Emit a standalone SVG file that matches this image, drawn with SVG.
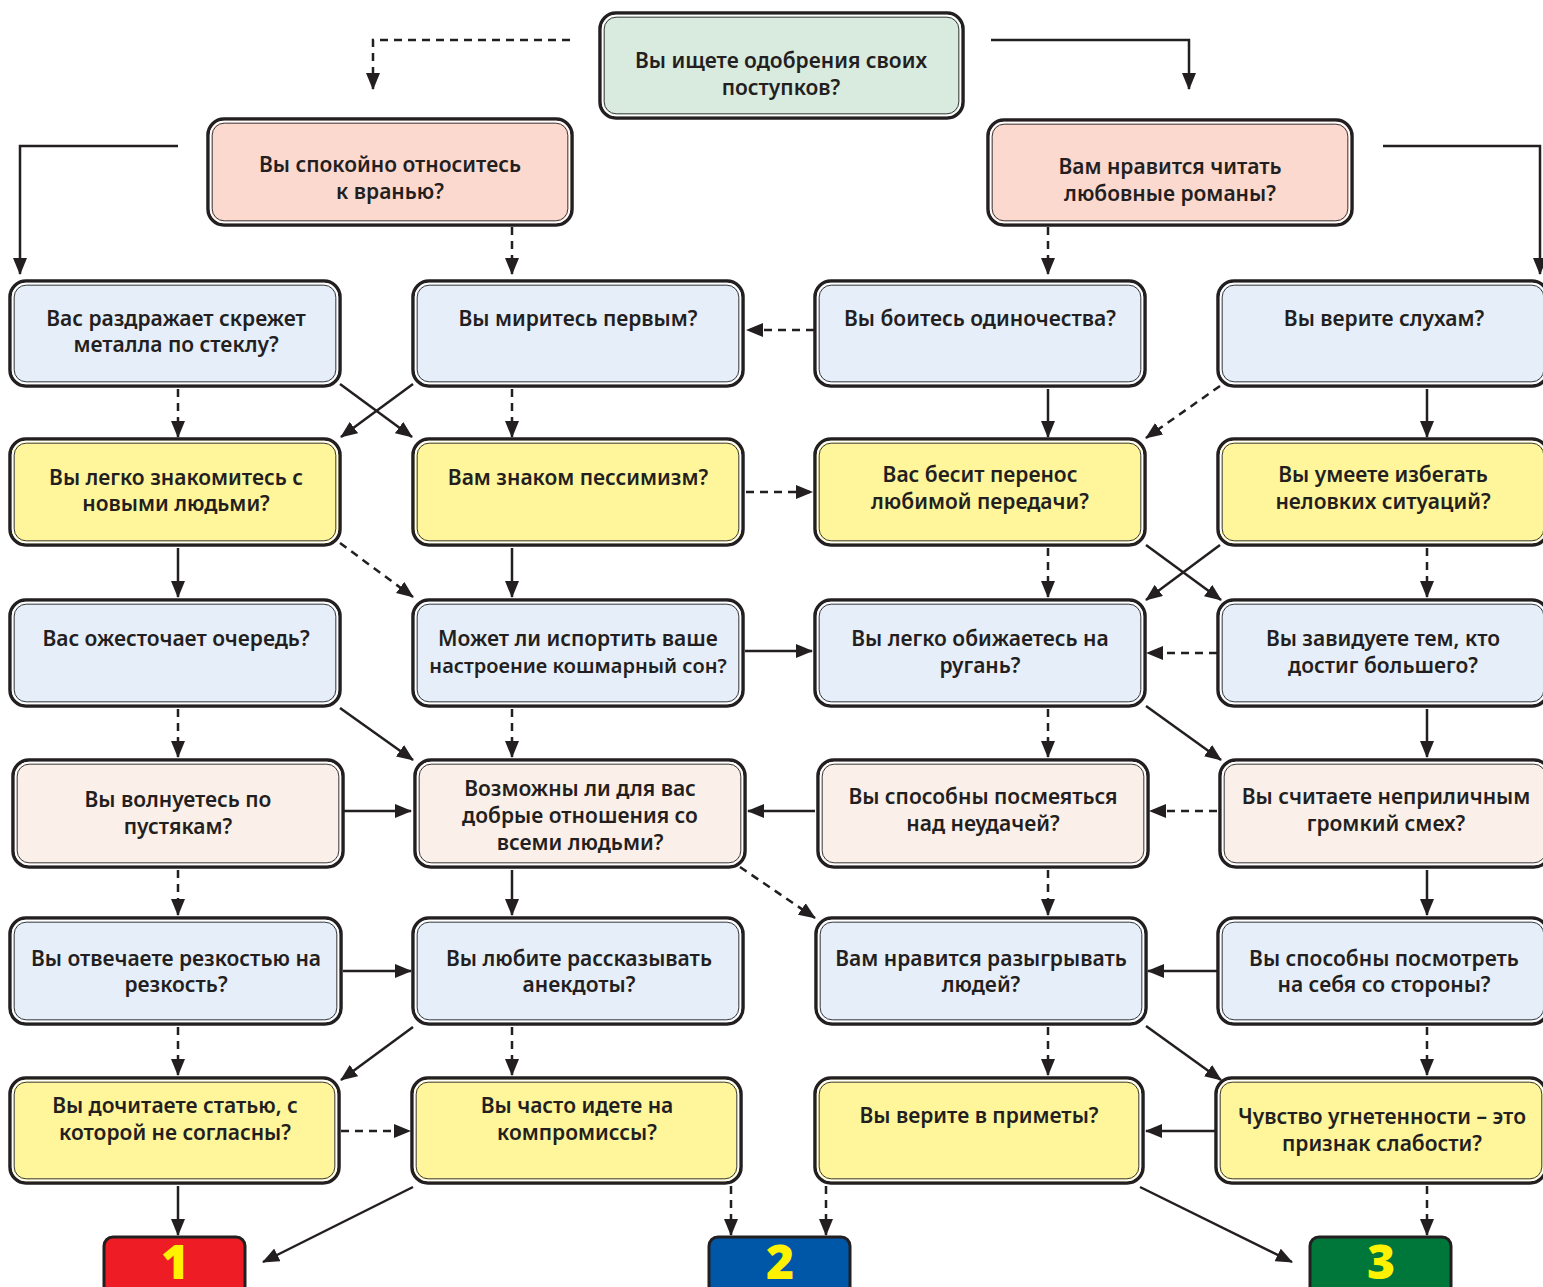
<svg xmlns="http://www.w3.org/2000/svg" width="1543" height="1287" viewBox="0 0 1543 1287">
<style>
.bg{fill:#ffffff}
.o{stroke:#231f20;stroke-width:3.5}
.w{fill:none;stroke:#ffffff;stroke-width:1.6}
.i{fill:none;stroke:#3a3a3a;stroke-width:1}
.green{fill:#d9eadf}
.pink{fill:#fcd9cf}
.blue{fill:#e6eefa}
.yel{fill:#fff59a}
.lp{fill:#fbefe9}
.t{font-family:"Noto Sans","DejaVu Sans",sans-serif;font-weight:600;font-size:21px;fill:#231f20;text-anchor:middle}
.c{fill:none;stroke:#231f20;stroke-width:2.5;marker-end:url(#ah)}
.d{stroke-dasharray:8 6}
.r{stroke:#231f20;stroke-width:3}
.num{font-family:"Open Sans","Noto Sans","DejaVu Sans",sans-serif;font-weight:800;font-size:48px;fill:#fff200;text-anchor:middle}
</style>
<defs>
<marker id="ah" markerUnits="userSpaceOnUse" markerWidth="18" markerHeight="14" refX="16" refY="7" orient="auto">
<path d="M0,0 L17,7 L0,14 z" fill="#231f20"/>
</marker>
</defs>
<rect class="bg" x="0" y="0" width="1543" height="1287"/>

<g id="connectors">
<polyline class="c d" points="570,40 373,40 373,89"/>
<polyline class="c" points="991,40 1189,40 1189,89"/>
<polyline class="c" points="178,146 20,146 20,274"/>
<polyline class="c" points="1383,146 1540,146 1540,274"/>
<line class="c d" x1="512" y1="227" x2="512" y2="274"/>
<line class="c d" x1="1048" y1="227" x2="1048" y2="274"/>
<line class="c d" x1="814" y1="330" x2="747" y2="330"/>
<line class="c d" x1="178" y1="389" x2="178" y2="437"/>
<line class="c d" x1="512" y1="389" x2="512" y2="437"/>
<line class="c" x1="340" y1="384" x2="412" y2="437"/>
<line class="c" x1="413" y1="384" x2="341" y2="437"/>
<line class="c" x1="1048" y1="389" x2="1048" y2="437"/>
<line class="c" x1="1427" y1="389" x2="1427" y2="437"/>
<line class="c d" x1="1220" y1="386" x2="1146" y2="438"/>
<line class="c d" x1="746" y1="492" x2="812" y2="492"/>
<line class="c" x1="178" y1="548" x2="178" y2="597"/>
<line class="c d" x1="340" y1="543" x2="413" y2="597"/>
<line class="c" x1="512" y1="548" x2="512" y2="597"/>
<line class="c d" x1="1048" y1="548" x2="1048" y2="597"/>
<line class="c" x1="1146" y1="545" x2="1221" y2="600"/>
<line class="c" x1="1220" y1="545" x2="1146" y2="600"/>
<line class="c d" x1="1427" y1="548" x2="1427" y2="597"/>
<line class="c" x1="745" y1="651" x2="812" y2="651"/>
<line class="c d" x1="1217" y1="653" x2="1147" y2="653"/>
<line class="c d" x1="178" y1="709" x2="178" y2="757"/>
<line class="c" x1="340" y1="708" x2="413" y2="760"/>
<line class="c d" x1="512" y1="709" x2="512" y2="757"/>
<line class="c d" x1="1048" y1="709" x2="1048" y2="757"/>
<line class="c" x1="1146" y1="706" x2="1221" y2="760"/>
<line class="c" x1="1427" y1="709" x2="1427" y2="757"/>
<line class="c" x1="344" y1="811" x2="411" y2="811"/>
<line class="c" x1="815" y1="811" x2="748" y2="811"/>
<line class="c d" x1="1217" y1="811" x2="1150" y2="811"/>
<line class="c d" x1="178" y1="870" x2="178" y2="915"/>
<line class="c" x1="512" y1="870" x2="512" y2="915"/>
<line class="c d" x1="740" y1="867" x2="815" y2="918"/>
<line class="c d" x1="1048" y1="870" x2="1048" y2="915"/>
<line class="c" x1="1427" y1="870" x2="1427" y2="915"/>
<line class="c" x1="343" y1="971" x2="411" y2="971"/>
<line class="c" x1="1217" y1="971" x2="1148" y2="971"/>
<line class="c d" x1="178" y1="1027" x2="178" y2="1075"/>
<line class="c" x1="413" y1="1027" x2="341" y2="1080"/>
<line class="c d" x1="512" y1="1027" x2="512" y2="1075"/>
<line class="c d" x1="1048" y1="1027" x2="1048" y2="1075"/>
<line class="c" x1="1146" y1="1026" x2="1221" y2="1080"/>
<line class="c d" x1="1427" y1="1027" x2="1427" y2="1075"/>
<line class="c d" x1="341" y1="1131" x2="410" y2="1131"/>
<line class="c" x1="1215" y1="1131" x2="1146" y2="1131"/>
<line class="c" x1="178" y1="1186" x2="178" y2="1235"/>
<line class="c" x1="413" y1="1187" x2="263" y2="1262"/>
<line class="c d" x1="731" y1="1186" x2="731" y2="1235"/>
<line class="c d" x1="826" y1="1186" x2="826" y2="1235"/>
<line class="c" x1="1140" y1="1187" x2="1292" y2="1262"/>
<line class="c d" x1="1427" y1="1186" x2="1427" y2="1235"/>
</g>

<g id="n0" transform="translate(600,13)"><rect class="o green" width="363" height="105" rx="16"/><rect class="w" x="2.6" y="2.6" width="357.8" height="99.8" rx="13.5"/><rect class="i" x="4.2" y="4.2" width="354.6" height="96.6" rx="12"/></g>
<text class="t" x="781" y="68">Вы ищете одобрения своих</text><text class="t" x="781" y="95">поступков?</text>

<g id="n1" transform="translate(208,119)"><rect class="o pink" width="364" height="106" rx="16"/><rect class="w" x="2.6" y="2.6" width="358.8" height="100.8" rx="13.5"/><rect class="i" x="4.2" y="4.2" width="355.6" height="97.6" rx="12"/></g>
<text class="t" x="390" y="172">Вы спокойно относитесь</text><text class="t" x="390" y="199">к вранью?</text>

<g id="n2" transform="translate(988,120)"><rect class="o pink" width="364" height="105" rx="16"/><rect class="w" x="2.6" y="2.6" width="358.8" height="99.8" rx="13.5"/><rect class="i" x="4.2" y="4.2" width="355.6" height="96.6" rx="12"/></g>
<text class="t" x="1170" y="174">Вам нравится читать</text><text class="t" x="1170" y="201">любовные романы?</text>

<!-- Row 2 -->
<g id="r2c1" transform="translate(10,281)"><rect class="o blue" width="330" height="105" rx="16"/><rect class="w" x="2.6" y="2.6" width="324.8" height="99.8" rx="13.5"/><rect class="i" x="4.2" y="4.2" width="321.6" height="96.6" rx="12"/></g>
<text class="t" x="176" y="326">Вас раздражает скрежет</text><text class="t" x="176" y="352">металла по стеклу?</text>
<g id="r2c2" transform="translate(413,281)"><rect class="o blue" width="330" height="105" rx="16"/><rect class="w" x="2.6" y="2.6" width="324.8" height="99.8" rx="13.5"/><rect class="i" x="4.2" y="4.2" width="321.6" height="96.6" rx="12"/></g>
<text class="t" x="578" y="326">Вы миритесь первым?</text>
<g id="r2c3" transform="translate(815,281)"><rect class="o blue" width="330" height="105" rx="16"/><rect class="w" x="2.6" y="2.6" width="324.8" height="99.8" rx="13.5"/><rect class="i" x="4.2" y="4.2" width="321.6" height="96.6" rx="12"/></g>
<text class="t" x="980" y="326">Вы боитесь одиночества?</text>
<g id="r2c4" transform="translate(1218,281)"><rect class="o blue" width="330" height="105" rx="16"/><rect class="w" x="2.6" y="2.6" width="324.8" height="99.8" rx="13.5"/><rect class="i" x="4.2" y="4.2" width="321.6" height="96.6" rx="12"/></g>
<text class="t" x="1384" y="326">Вы верите слухам?</text>

<!-- Row 3 -->
<g id="r3c1" transform="translate(10,439)"><rect class="o yel" width="330" height="106" rx="16"/><rect class="w" x="2.6" y="2.6" width="324.8" height="100.8" rx="13.5"/><rect class="i" x="4.2" y="4.2" width="321.6" height="97.6" rx="12"/></g>
<text class="t" x="176" y="485">Вы легко знакомитесь с</text><text class="t" x="176" y="511">новыми людьми?</text>
<g id="r3c2" transform="translate(413,439)"><rect class="o yel" width="330" height="106" rx="16"/><rect class="w" x="2.6" y="2.6" width="324.8" height="100.8" rx="13.5"/><rect class="i" x="4.2" y="4.2" width="321.6" height="97.6" rx="12"/></g>
<text class="t" x="578" y="485">Вам знаком пессимизм?</text>
<g id="r3c3" transform="translate(815,439)"><rect class="o yel" width="330" height="106" rx="16"/><rect class="w" x="2.6" y="2.6" width="324.8" height="100.8" rx="13.5"/><rect class="i" x="4.2" y="4.2" width="321.6" height="97.6" rx="12"/></g>
<text class="t" x="980" y="482">Вас бесит перенос</text><text class="t" x="980" y="509">любимой передачи?</text>
<g id="r3c4" transform="translate(1218,439)"><rect class="o yel" width="330" height="106" rx="16"/><rect class="w" x="2.6" y="2.6" width="324.8" height="100.8" rx="13.5"/><rect class="i" x="4.2" y="4.2" width="321.6" height="97.6" rx="12"/></g>
<text class="t" x="1383" y="482">Вы умеете избегать</text><text class="t" x="1383" y="509">неловких ситуаций?</text>

<!-- Row 4 -->
<g id="r4c1" transform="translate(10,600)"><rect class="o blue" width="330" height="106" rx="16"/><rect class="w" x="2.6" y="2.6" width="324.8" height="100.8" rx="13.5"/><rect class="i" x="4.2" y="4.2" width="321.6" height="97.6" rx="12"/></g>
<text class="t" x="176" y="646">Вас ожесточает очередь?</text>
<g id="r4c2" transform="translate(413,600)"><rect class="o blue" width="330" height="106" rx="16"/><rect class="w" x="2.6" y="2.6" width="324.8" height="100.8" rx="13.5"/><rect class="i" x="4.2" y="4.2" width="321.6" height="97.6" rx="12"/></g>
<text class="t" x="578" y="646">Может ли испортить ваше</text><text class="t" x="578" y="673" style="font-size:20px">настроение кошмарный сон?</text>
<g id="r4c3" transform="translate(815,600)"><rect class="o blue" width="330" height="106" rx="16"/><rect class="w" x="2.6" y="2.6" width="324.8" height="100.8" rx="13.5"/><rect class="i" x="4.2" y="4.2" width="321.6" height="97.6" rx="12"/></g>
<text class="t" x="980" y="646">Вы легко обижаетесь на</text><text class="t" x="980" y="673">ругань?</text>
<g id="r4c4" transform="translate(1218,600)"><rect class="o blue" width="330" height="106" rx="16"/><rect class="w" x="2.6" y="2.6" width="324.8" height="100.8" rx="13.5"/><rect class="i" x="4.2" y="4.2" width="321.6" height="97.6" rx="12"/></g>
<text class="t" x="1383" y="646">Вы завидуете тем, кто</text><text class="t" x="1383" y="673">достиг большего?</text>

<!-- Row 5 -->
<g id="r5c1" transform="translate(13,760)"><rect class="o lp" width="330" height="107" rx="16"/><rect class="w" x="2.6" y="2.6" width="324.8" height="101.8" rx="13.5"/><rect class="i" x="4.2" y="4.2" width="321.6" height="98.6" rx="12"/></g>
<text class="t" x="178" y="807">Вы волнуетесь по</text><text class="t" x="178" y="834">пустякам?</text>
<g id="r5c2" transform="translate(415,760)"><rect class="o lp" width="330" height="107" rx="16"/><rect class="w" x="2.6" y="2.6" width="324.8" height="101.8" rx="13.5"/><rect class="i" x="4.2" y="4.2" width="321.6" height="98.6" rx="12"/></g>
<text class="t" x="580" y="796">Возможны ли для вас</text><text class="t" x="580" y="823">добрые отношения со</text><text class="t" x="580" y="850">всеми людьми?</text>
<g id="r5c3" transform="translate(818,760)"><rect class="o lp" width="330" height="107" rx="16"/><rect class="w" x="2.6" y="2.6" width="324.8" height="101.8" rx="13.5"/><rect class="i" x="4.2" y="4.2" width="321.6" height="98.6" rx="12"/></g>
<text class="t" x="983" y="804">Вы способны посмеяться</text><text class="t" x="983" y="831">над неудачей?</text>
<g id="r5c4" transform="translate(1220,760)"><rect class="o lp" width="330" height="107" rx="16"/><rect class="w" x="2.6" y="2.6" width="324.8" height="101.8" rx="13.5"/><rect class="i" x="4.2" y="4.2" width="321.6" height="98.6" rx="12"/></g>
<text class="t" x="1386" y="804">Вы считаете неприличным</text><text class="t" x="1386" y="831">громкий смех?</text>

<!-- Row 6 -->
<g id="r6c1" transform="translate(10,918)"><rect class="o blue" width="331" height="106" rx="16"/><rect class="w" x="2.6" y="2.6" width="325.8" height="100.8" rx="13.5"/><rect class="i" x="4.2" y="4.2" width="322.6" height="97.6" rx="12"/></g>
<text class="t" x="176" y="966">Вы отвечаете резкостью на</text><text class="t" x="176" y="992">резкость?</text>
<g id="r6c2" transform="translate(413,918)"><rect class="o blue" width="330" height="106" rx="16"/><rect class="w" x="2.6" y="2.6" width="324.8" height="100.8" rx="13.5"/><rect class="i" x="4.2" y="4.2" width="321.6" height="97.6" rx="12"/></g>
<text class="t" x="579" y="966">Вы любите рассказывать</text><text class="t" x="579" y="992">анекдоты?</text>
<g id="r6c3" transform="translate(816,918)"><rect class="o blue" width="330" height="106" rx="16"/><rect class="w" x="2.6" y="2.6" width="324.8" height="100.8" rx="13.5"/><rect class="i" x="4.2" y="4.2" width="321.6" height="97.6" rx="12"/></g>
<text class="t" x="981" y="966">Вам нравится разыгрывать</text><text class="t" x="981" y="992">людей?</text>
<g id="r6c4" transform="translate(1218,918)"><rect class="o blue" width="330" height="106" rx="16"/><rect class="w" x="2.6" y="2.6" width="324.8" height="100.8" rx="13.5"/><rect class="i" x="4.2" y="4.2" width="321.6" height="97.6" rx="12"/></g>
<text class="t" x="1384" y="966">Вы способны посмотреть</text><text class="t" x="1384" y="992">на себя со стороны?</text>

<!-- Row 7 -->
<g id="r7c1" transform="translate(10,1078)"><rect class="o yel" width="329" height="105" rx="16"/><rect class="w" x="2.6" y="2.6" width="323.8" height="99.8" rx="13.5"/><rect class="i" x="4.2" y="4.2" width="320.6" height="96.6" rx="12"/></g>
<text class="t" x="175" y="1113">Вы дочитаете статью, с</text><text class="t" x="175" y="1140">которой не согласны?</text>
<g id="r7c2" transform="translate(412,1078)"><rect class="o yel" width="329" height="105" rx="16"/><rect class="w" x="2.6" y="2.6" width="323.8" height="99.8" rx="13.5"/><rect class="i" x="4.2" y="4.2" width="320.6" height="96.6" rx="12"/></g>
<text class="t" x="577" y="1113">Вы часто идете на</text><text class="t" x="577" y="1140">компромиссы?</text>
<g id="r7c3" transform="translate(815,1078)"><rect class="o yel" width="328" height="105" rx="16"/><rect class="w" x="2.6" y="2.6" width="322.8" height="99.8" rx="13.5"/><rect class="i" x="4.2" y="4.2" width="319.6" height="96.6" rx="12"/></g>
<text class="t" x="979" y="1123">Вы верите в приметы?</text>
<g id="r7c4" transform="translate(1216,1078)"><rect class="o yel" width="330" height="105" rx="16"/><rect class="w" x="2.6" y="2.6" width="324.8" height="99.8" rx="13.5"/><rect class="i" x="4.2" y="4.2" width="321.6" height="96.6" rx="12"/></g>
<text class="t" x="1382" y="1124">Чувство угнетенности – это</text><text class="t" x="1382" y="1151">признак слабости?</text>

<!-- Results -->
<g id="res1"><rect class="r" x="104" y="1237" width="141" height="70" rx="9" fill="#ee1c25"/><text class="num" x="175" y="1279">1</text></g>
<g id="res2"><rect class="r" x="709" y="1237" width="141" height="70" rx="9" fill="#0057a8"/><text class="num" x="780" y="1279">2</text></g>
<g id="res3"><rect class="r" x="1310" y="1237" width="141" height="70" rx="9" fill="#00773a"/><text class="num" x="1381" y="1279">3</text></g>
</svg>
